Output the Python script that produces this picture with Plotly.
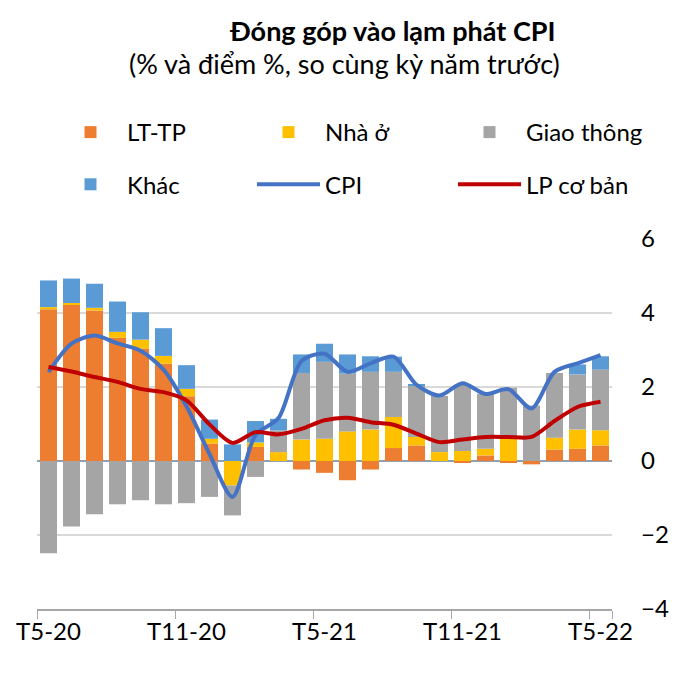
import plotly.graph_objects as go

months = ["T5-20","T6-20","T7-20","T8-20","T9-20","T10-20","T11-20","T12-20",
          "T1-21","T2-21","T3-21","T4-21","T5-21","T6-21","T7-21","T8-21","T9-21",
          "T10-21","T11-21","T12-21","T1-22","T2-22","T3-22","T4-22","T5-22"]
tick_labels = ["T5-20","T11-20","T5-21","T11-21","T5-22"]

lt_tp = [4.10,4.23,4.07,3.33,3.04,2.63,1.75,0.47,0.00,0.38,0.00,-0.23,-0.32,-0.52,-0.23,
         0.35,0.42,0.00,-0.05,0.15,-0.03,-0.09,0.31,0.33,0.42]
nha_o = [0.06,0.04,0.07,0.16,0.24,0.21,0.20,0.13,-0.66,0.12,0.24,0.58,0.60,0.80,0.85,
         0.84,0.23,0.24,0.27,0.18,0.60,0.00,0.32,0.52,0.41]
giao_thong = [-2.49,-1.77,-1.44,-1.17,-1.06,-1.17,-1.14,-0.97,-0.81,-0.43,0.59,1.80,2.08,
              1.56,1.56,1.22,1.39,1.52,1.79,1.49,1.38,1.50,1.75,1.49,1.64]
khac = [0.72,0.66,0.65,0.82,0.74,0.75,0.64,0.52,0.45,0.58,0.31,0.50,0.49,0.52,0.42,
        0.41,0.03,0.00,0.00,0.00,0.00,0.00,0.00,0.27,0.36]
cpi = [2.40,3.17,3.39,3.18,2.98,2.47,1.48,0.19,-0.97,0.70,1.16,2.70,2.90,2.41,2.64,
       2.82,2.06,1.77,2.10,1.81,1.94,1.42,2.41,2.64,2.86]
lp_co_ban = [2.54,2.42,2.27,2.14,1.95,1.86,1.64,0.99,0.49,0.78,0.72,0.87,1.10,1.17,1.05,
             0.98,0.74,0.51,0.58,0.65,0.65,0.65,1.08,1.46,1.60]

FONT = "Lato, 'Noto Sans', sans-serif"

W, H = 700, 684
OFF = 8   # page body margin: figure is drawn 8px right/down of window origin
PL, PR, PT, PB = 37 - OFF, 612 - OFF, 239 - OFF, 609 - OFF
PW, PH = PR - PL, PB - PT

def px_x(sx):
    return (sx - OFF - PL) / PW

def px_y(sy):
    return (PB - (sy - OFF)) / PH

fig = go.Figure()
# legend columns: legend (col 1), legend2 (col 2), legend3 (col 3)
bar_specs = [("LT-TP", lt_tp, "#ED7D31", "legend"),
             ("Nhà ở", nha_o, "#FFC000", "legend2"),
             ("Giao thông", giao_thong, "#A5A5A5", "legend3"),
             ("Khác", khac, "#5B9BD5", "legend")]
for name, vals, col, leg in bar_specs:
    fig.add_trace(go.Bar(x=months, y=vals, name=name, marker_color=col,
                         marker_line_width=0, legend=leg, legendgroup=name))
fig.add_trace(go.Scatter(x=months, y=cpi, name="CPI", mode="lines",
                         line=dict(color="#4472C4", width=4, shape="spline", smoothing=0.8),
                         legend="legend2", legendgroup="CPI"))
fig.add_trace(go.Scatter(x=months, y=lp_co_ban, name="LP cơ bản", mode="lines",
                         line=dict(color="#C00000", width=4, shape="spline", smoothing=0.8),
                         legend="legend3", legendgroup="LP"))

leg_common = dict(orientation="v", xanchor="left", yanchor="top",
                  xref="container", yref="container",
                  font=dict(family=FONT, size=24, color="#000"),
                  itemwidth=63, tracegroupgap=18,
                  bgcolor="rgba(0,0,0,0)", traceorder="grouped")
leg_top = 1 - (110 - OFF) / H

fig.update_layout(
    width=W, height=H,
    margin=dict(l=PL, r=W - PR, t=PT, b=H - PB, autoexpand=False),
    paper_bgcolor="white", plot_bgcolor="white",
    barmode="relative", bargap=0.26,
    font=dict(family=FONT, size=24, color="#000"),
    legend=dict(x=(54 - OFF) / W, y=leg_top, **leg_common),
    legend2=dict(x=(252 - OFF) / W, y=leg_top, **leg_common),
    legend3=dict(x=(453 - OFF) / W, y=leg_top, **leg_common),
    xaxis=dict(type="category", categoryorder="array", categoryarray=months,
               tickmode="array", tickvals=tick_labels, ticktext=tick_labels,
               tickson="boundaries", ticks="outside", ticklen=8, tickcolor="#A6A6A6",
               tickangle=0, automargin=False,
               showgrid=False, showline=True, linecolor="#A6A6A6", linewidth=1.5,
               tickfont=dict(family=FONT, size=24, color="#000"),
               range=[-0.5, 24.5]),
    yaxis=dict(side="right", range=[-4, 6], dtick=2, tick0=0, automargin=False,
               showgrid=True, gridcolor="#D9D9D9", gridwidth=1.5,
               zeroline=True, zerolinecolor="#8EA0B4", zerolinewidth=1.5,
               showline=False, ticks="", ticklabelstandoff=28,
               tickfont=dict(family=FONT, size=24, color="#000")),
    annotations=[
        dict(text="<b>Đóng góp vào lạm phát CPI</b>", xref="paper", yref="paper",
             x=px_x(392), y=px_y(30), xanchor="center", yanchor="middle",
             showarrow=False, font=dict(family=FONT, size=27, color="#000")),
        dict(text="(% và điểm %, so cùng kỳ năm trước)", xref="paper", yref="paper",
             x=px_x(344), y=px_y(64), xanchor="center", yanchor="middle",
             showarrow=False, font=dict(family=FONT, size=27, color="#000")),
    ],
)

fig.write_html("out.html")
